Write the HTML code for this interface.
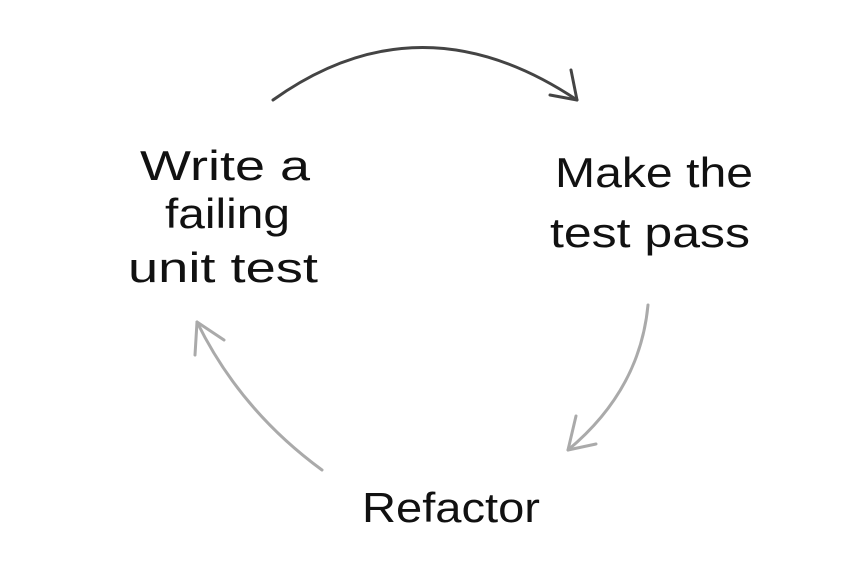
<!DOCTYPE html>
<html><head><style>
html,body{margin:0;padding:0;background:#fff;}
svg{display:block;}
text{font-family:"Liberation Sans",sans-serif;font-size:42px;fill:#111;}
</style></head><body>
<svg width="860" height="564" viewBox="0 0 860 564">
<g fill="none" stroke-linecap="round" stroke-linejoin="round">
<path d="M273 100 Q420 -5 577 100" stroke="#444" stroke-width="3"/>
<path d="M571 70 L577 100 L550 95" stroke="#444" stroke-width="3"/>
<path d="M648 305 Q640 390 568 450" stroke="#aaa" stroke-width="3"/>
<path d="M576 416 L568 450 L596 444" stroke="#aaa" stroke-width="3"/>
<path d="M322 470 Q240 410 197 322" stroke="#aaa" stroke-width="3"/>
<path d="M195 355 L197 322 L224 340" stroke="#aaa" stroke-width="3"/>
</g>
<text x="140" y="180" textLength="170" lengthAdjust="spacingAndGlyphs">Write a</text>
<text x="165" y="228" textLength="125" lengthAdjust="spacingAndGlyphs">failing</text>
<text x="128" y="282" textLength="190" lengthAdjust="spacingAndGlyphs">unit test</text>
<text x="555" y="187" textLength="198" lengthAdjust="spacingAndGlyphs">Make the</text>
<text x="550" y="247" textLength="200" lengthAdjust="spacingAndGlyphs">test pass</text>
<text x="362" y="522" textLength="178" lengthAdjust="spacingAndGlyphs">Refactor</text>
</svg>
</body></html>
